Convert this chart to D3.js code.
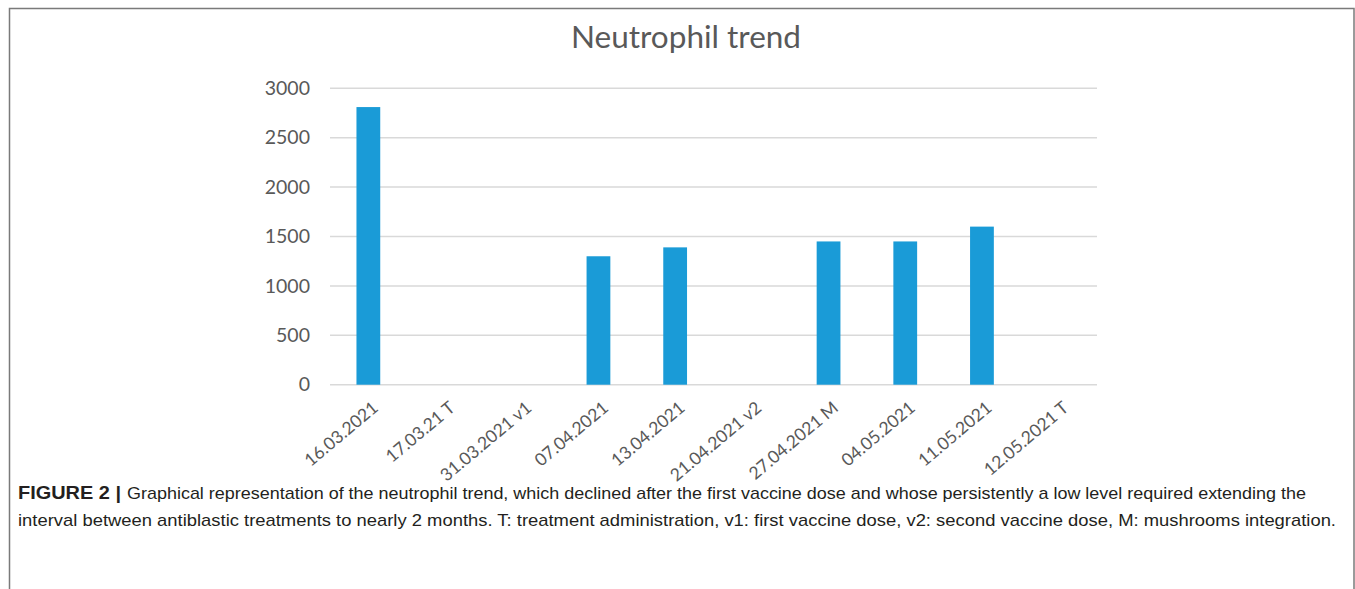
<!DOCTYPE html>
<html><head><meta charset="utf-8">
<script src="https://cdn.jsdelivr.net/npm/d3@7"></script>
<style>html,body{margin:0;padding:0;background:#fff;}svg{display:block;}</style>
</head><body>
<svg id="chart" width="1355" height="589"></svg>
<script>
const categories = ["16.03.2021","17.03.21 T","31.03.2021 v1","07.04.2021","13.04.2021","21.04.2021 v2","27.04.2021 M","04.05.2021","11.05.2021","12.05.2021 T"];
const neutrophils = [2810, null, null, 1300, 1390, null, 1450, 1450, 1600, null];
const yTicks = [0, 500, 1000, 1500, 2000, 2500, 3000];
const title = "Neutrophil trend";
const captionBold = "FIGURE 2 |";
const captionLine1 = "Graphical representation of the neutrophil trend, which declined after the first vaccine dose and whose persistently a low level required extending the";
const captionLine2 = "interval between antiblastic treatments to nearly 2 months. T: treatment administration, v1: first vaccine dose, v2: second vaccine dose, M: mushrooms integration.";

const svg = d3.select("#chart");
const font = "Lato, 'Open Sans', sans-serif";
const grey = "#595959";

// frame
svg.append("rect").attr("x", 9.5).attr("y", 8.5).attr("width", 1344.5).attr("height", 620)
  .attr("fill", "none").attr("stroke", "#7a7a7a").attr("stroke-width", 1.5);

const x = d3.scaleBand().domain(categories).range([330, 1097]).padding(0);
const y = d3.scaleLinear().domain([0, 3000]).range([384.7, 88.3]);

// gridlines
svg.append("g").selectAll("line").data(yTicks).join("line")
  .attr("x1", 330).attr("x2", 1097)
  .attr("y1", d => y(d)).attr("y2", d => y(d))
  .attr("stroke", "#d9d9d9").attr("stroke-width", 1.5);

// y axis labels via d3 axis
const yAxis = svg.append("g").attr("transform", "translate(330,0)")
  .call(d3.axisLeft(y).tickValues(yTicks).tickSize(0).tickPadding(20).tickFormat(d3.format("d")));
yAxis.select(".domain").remove();
yAxis.selectAll("text").attr("fill", grey).attr("font-family", font).attr("font-size", 19.5);

// bars
const bw = x.step() * 0.31;
svg.append("g").selectAll("rect").data(categories.map((c, i) => ({c, v: neutrophils[i]})).filter(d => d.v != null))
  .join("rect")
  .attr("x", d => x(d.c) + x.bandwidth() / 2 - bw / 2)
  .attr("width", bw)
  .attr("y", d => y(d.v))
  .attr("height", d => y(0) - y(d.v))
  .attr("fill", "#1a9bd7");

// x labels
const xAxis = svg.append("g").attr("transform", `translate(0,${y(0)})`)
  .call(d3.axisBottom(x).tickSize(0).tickPadding(0));
xAxis.select(".domain").remove();
xAxis.selectAll("text")
  .attr("fill", grey).attr("font-family", font).attr("font-size", 17.5)
  .attr("text-anchor", "end")
  .attr("dy", 0).attr("y", 0)
  .attr("transform", "translate(11,25) rotate(-40)");

// title
svg.append("text").attr("x", 686).attr("y", 48).attr("text-anchor", "middle")
  .attr("fill", grey).attr("font-family", font).attr("font-size", 31.5).text(title);

// caption
const capFont = "'Liberation Sans', Arial, sans-serif";
svg.append("text").attr("x", 18).attr("y", 499).attr("font-family", capFont).attr("font-weight", "bold")
  .attr("font-size", 18).attr("fill", "#231f20")
  .attr("textLength", 103).attr("lengthAdjust", "spacingAndGlyphs").text(captionBold);
svg.append("text").attr("x", 127).attr("y", 499).attr("font-family", capFont)
  .attr("font-size", 17).attr("fill", "#231f20")
  .attr("textLength", 1179).attr("lengthAdjust", "spacingAndGlyphs").text(captionLine1);
svg.append("text").attr("x", 18).attr("y", 526).attr("font-family", capFont)
  .attr("font-size", 17).attr("fill", "#231f20")
  .attr("textLength", 1318).attr("lengthAdjust", "spacingAndGlyphs").text(captionLine2);
</script>
</body></html>
